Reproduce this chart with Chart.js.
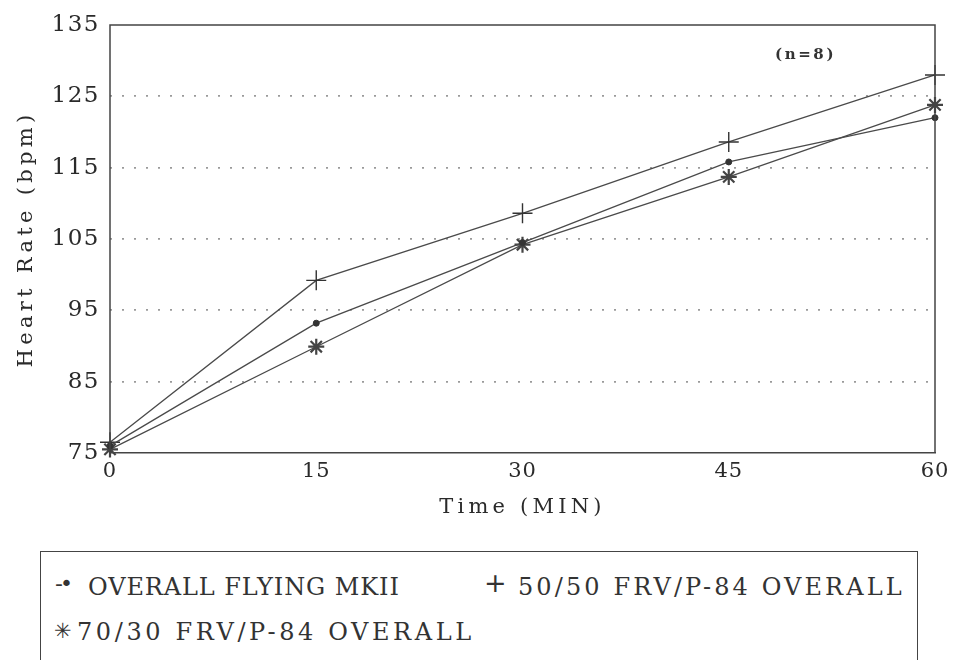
<!DOCTYPE html>
<html>
<head>
<meta charset="utf-8">
<script src="https://cdn.jsdelivr.net/npm/chart.js@4"></script>
<style>
  html, body { margin: 0; padding: 0; background: #fff; }
  #wrap { position: relative; width: 956px; height: 660px; overflow: hidden; }
  #c { position: absolute; left: 0; top: 0; }
  #note { position: absolute; left: 775px; top: 45px; font: bold 15px "DejaVu Serif", serif; line-height: 18px; color: #333; letter-spacing: 2.6px; white-space: nowrap; }
  #legendBox { position: absolute; left: 40px; top: 551px; width: 878px; height: 112px; border: 1.5px solid #444; border-bottom: none; box-sizing: border-box; }
  .t { position: absolute; white-space: nowrap; font: 24px "DejaVu Serif", serif; line-height: 28px; color: #333; }
  .mk { position: absolute; white-space: nowrap; font-family: "DejaVu Sans", sans-serif; color: #333; }
</style>
</head>
<body>
<div id="wrap">
  <canvas id="c" width="956" height="540"></canvas>
  <div id="note">(n=8)</div>
  <div id="legendBox"></div>
  <span class="mk" id="mk0" style="left:55px; top:570px; font-size:22px; line-height:28px; letter-spacing:-3px;"></span>
  <span class="t" id="lg0" style="left:88px; top:573px; letter-spacing:0.9px;"></span>
  <span class="mk" id="mk1" style="left:484px; top:568px; font-size:27px; line-height:30px;"></span>
  <span class="t" id="lg1" style="left:518px; top:573px; letter-spacing:3.1px;"></span>
  <span class="mk" id="mk2" style="left:54px; top:617px; font-size:21px; line-height:28px;"></span>
  <span class="t" id="lg2" style="left:77px; top:618px; letter-spacing:3.6px;"></span>
</div>
<script>
// ---- data ----
const times = [0, 15, 30, 45, 60];
const xTickLabels = [0, 15, 30, 45, 60];
const yTickLabels = [75, 85, 95, 105, 115, 125, 135];
const seriesNames = ["OVERALL FLYING MKII", "50/50 FRV/P-84 OVERALL", "70/30 FRV/P-84 OVERALL"];
const overallFlyingMKII = [76, 93.2, 104.5, 115.8, 122];
const fiftyFiftyFRV = [76.5, 99.2, 108.6, 118.6, 128];
const seventyThirtyFRV = [75.5, 89.9, 104.2, 113.7, 123.8];
const legendMarks = ["-•", "+", "✳"];

const toPts = arr => arr.map((v, i) => ({ x: times[i], y: v }));
const lineColor = '#4a4a4a';
const textColor = '#2a2a2a';

// letter spacing for axis texts
const spacing = { x: { labels: '1px', title: '4.2px' }, y: { labels: '1.5px', title: '4.3px' } };

const spacingPlugin = {
  id: 'spacing',
  afterLayout(chart) {
    Object.keys(spacing).forEach(id => {
      const s = chart.scales[id];
      if (!s || s._spWrapped) return;
      s._spWrapped = true;
      const dl = s.drawLabels, dt = s.drawTitle;
      s.drawLabels = function (...a) { const c = this.ctx; c.letterSpacing = spacing[id].labels; dl.apply(this, a); c.letterSpacing = '0px'; };
      s.drawTitle = function (...a) { const c = this.ctx; c.letterSpacing = spacing[id].title; dt.apply(this, a); c.letterSpacing = '0px'; };
    });
  }
};

const frame = {
  id: 'frame',
  afterDraw(chart) {
    const { ctx, chartArea: a } = chart;
    ctx.save();
    ctx.strokeStyle = '#444';
    ctx.lineWidth = 1.5;
    ctx.setLineDash([]);
    ctx.beginPath();
    ctx.moveTo(a.left, a.bottom);
    ctx.lineTo(a.left, a.top);
    ctx.lineTo(a.right, a.top);
    ctx.lineTo(a.right, a.bottom);
    ctx.stroke();
    ctx.restore();
  }
};

new Chart(document.getElementById('c'), {
  type: 'line',
  data: {
    datasets: [
      { label: seriesNames[0], data: toPts(overallFlyingMKII), borderColor: lineColor, backgroundColor: '#333',
        borderWidth: 1.3, pointStyle: 'circle', pointRadius: 3, pointBorderWidth: 1, pointBorderColor: '#333' },
      { label: seriesNames[1], data: toPts(fiftyFiftyFRV), borderColor: lineColor, backgroundColor: '#333',
        borderWidth: 1.3, pointStyle: 'cross', pointRadius: 10, pointBorderWidth: 1.4, pointBorderColor: '#333' },
      { label: seriesNames[2], data: toPts(seventyThirtyFRV), borderColor: lineColor, backgroundColor: '#333',
        borderWidth: 1.3, pointStyle: 'star', pointRadius: 8, pointBorderWidth: 2.2, pointBorderColor: '#444' }
    ]
  },
  options: {
    responsive: false,
    animation: false,
    devicePixelRatio: 1,
    clip: false,
    layout: { padding: { left: 0, right: 21, top: 25, bottom: 0 } },
    plugins: { legend: { display: false }, tooltip: { enabled: false } },
    elements: { line: { tension: 0 } },
    scales: {
      x: {
        type: 'linear', min: 0, max: 60,
        afterBuildTicks: s => { s.ticks = xTickLabels.map(v => ({ value: v })); },
        afterFit: s => { s.height = 87; },
        grid: { display: false, drawTicks: false },
        border: { display: true, color: '#444', width: 1.5 },
        ticks: { padding: 6, color: textColor, font: { family: 'DejaVu Serif', size: 21 } },
        title: { display: true, text: 'Time (MIN)', color: textColor, padding: { top: 0, bottom: 20 },
                 font: { family: 'DejaVu Serif', size: 21 } }
      },
      y: {
        type: 'linear', min: 75, max: 135,
        afterBuildTicks: s => { s.ticks = yTickLabels.map(v => ({ value: v })); },
        afterFit: s => { s.width = 110; },
        grid: {
          drawTicks: false,
          color: ctx => (ctx.tick && (ctx.tick.value === 75 || ctx.tick.value === 135)) ? 'rgba(0,0,0,0)' : '#9a9a9a',
          lineWidth: 1.8
        },
        border: { display: false, dash: [2, 10] },
        ticks: { padding: 10, color: textColor, font: { family: 'DejaVu Serif', size: 23 } },
        title: { display: true, text: 'Heart Rate (bpm)', color: textColor, padding: { top: 14, bottom: 0 },
                 font: { family: 'DejaVu Serif', size: 21 } }
      }
    }
  },
  plugins: [spacingPlugin, frame]
});

// legend (real text)
[0, 1, 2].forEach(i => {
  document.getElementById('mk' + i).textContent = legendMarks[i];
  document.getElementById('lg' + i).textContent = seriesNames[i];
});
</script>
</body>
</html>
